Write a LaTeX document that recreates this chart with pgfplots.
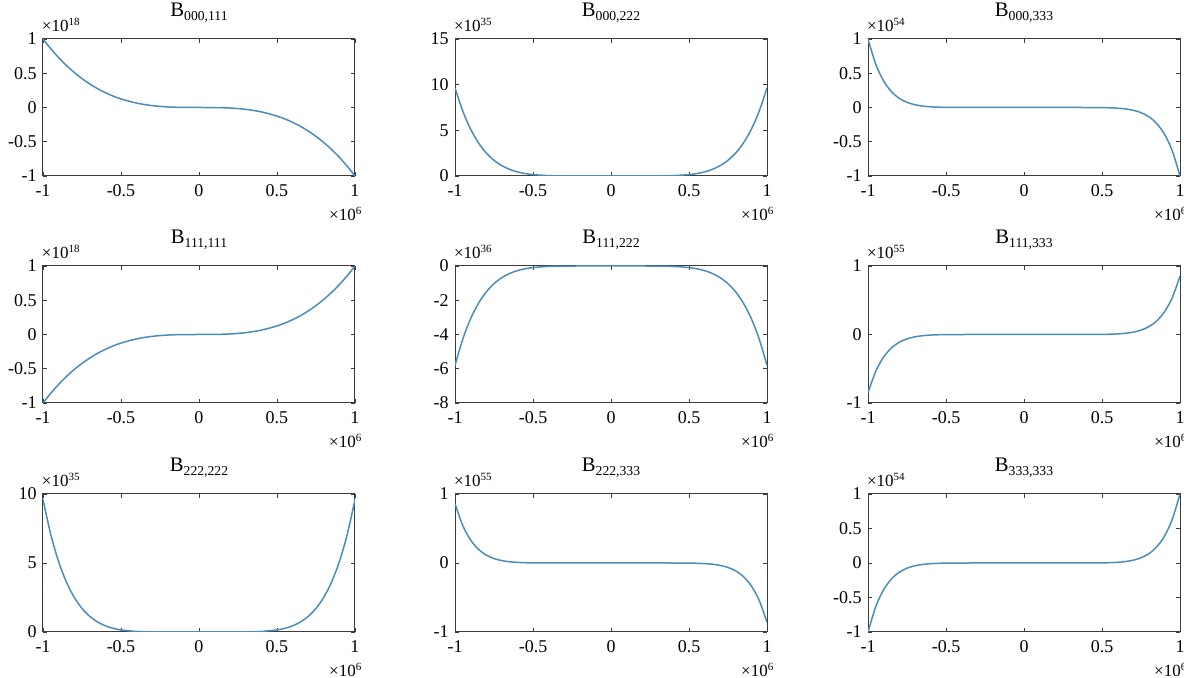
\documentclass[border=0pt]{standalone}
\usepackage{fontspec}
\setmainfont{Liberation Serif}
\usepackage{pgfplots}
\usepackage{pgfplotstable}
\pgfplotsset{compat=1.18}

\definecolor{curve}{RGB}{75,140,185}
\definecolor{frame}{RGB}{60,60,60}

% x in units of 1e6, each column in the units of its panel's y scale
\pgfplotstableread{
x a b c d e f g h i
-1 1 9.65 1 -1 -5.8 -0.85 9.6 0.86 -1
-0.95 0.8574 7.094 0.6302 -0.8574 -4.264 -0.5357 7.057 0.5420 -0.6302
-0.9 0.729 5.128 0.3874 -0.729 -3.082 -0.3293 5.102 0.3332 -0.3874
-0.85 0.6141 3.640 0.2316 -0.6141 -2.187 -0.1969 3.621 0.1992 -0.2316
-0.8 0.512 2.530 0.1342 -0.512 -1.520 -0.1141 2.517 0.1154 -0.1342
-0.75 0.4219 1.718 0.0751 -0.4219 -1.032 -0.0638 1.709 0.0646 -0.0751
-0.7 0.343 1.135 0.0404 -0.343 -0.682 -0.0343 1.129 0.0347 -0.0404
-0.65 0.2746 0.728 0.0207 -0.2746 -0.437 -0.0176 0.724 0.0178 -0.0207
-0.6 0.216 0.450 0.0101 -0.216 -0.271 -0.0086 0.448 0.0087 -0.0101
-0.55 0.1664 0.267 0.0046 -0.1664 -0.161 -0.0039 0.266 0.0040 -0.0046
-0.5 0.125 0.151 0.0020 -0.125 -0.091 -0.0017 0.150 0.0017 -0.0020
-0.4 0.064 0.040 0.0003 -0.064 -0.024 -0.0002 0.039 0.0002 -0.0003
-0.3 0.027 0.007 0 -0.027 -0.004 0 0.007 0 0
-0.2 0.008 0.001 0 -0.008 0 0 0.001 0 0
-0.1 0.001 0 0 -0.001 0 0 0 0 0
0 0 0 0 0 0 0 0 0 0
0.1 -0.001 0 0 0.001 0 0 0 0 0
0.2 -0.008 0.001 0 0.008 0 0 0.001 0 0
0.3 -0.027 0.007 0 0.027 -0.004 0 0.007 0 0
0.4 -0.064 0.040 -0.0003 0.064 -0.024 0.0002 0.039 -0.0002 0.0003
0.5 -0.125 0.151 -0.0020 0.125 -0.091 0.0017 0.150 -0.0017 0.0020
0.55 -0.1664 0.267 -0.0046 0.1664 -0.161 0.0039 0.266 -0.0040 0.0046
0.6 -0.216 0.450 -0.0101 0.216 -0.271 0.0086 0.448 -0.0087 0.0101
0.65 -0.2746 0.728 -0.0207 0.2746 -0.437 0.0176 0.724 -0.0178 0.0207
0.7 -0.343 1.135 -0.0404 0.343 -0.682 0.0343 1.129 -0.0347 0.0404
0.75 -0.4219 1.718 -0.0751 0.4219 -1.032 0.0638 1.709 -0.0646 0.0751
0.8 -0.512 2.530 -0.1342 0.512 -1.520 0.1141 2.517 -0.1154 0.1342
0.85 -0.6141 3.640 -0.2316 0.6141 -2.187 0.1969 3.621 -0.1992 0.2316
0.9 -0.729 5.128 -0.3874 0.729 -3.082 0.3293 5.102 -0.3332 0.3874
0.95 -0.8574 7.094 -0.6302 0.8574 -4.264 0.5357 7.057 -0.5420 0.6302
1 -1 9.65 -1 1 -5.8 0.85 9.6 -0.86 1
}\bdata

\newcommand{\tenpow}[1]{{\fontsize{10.2}{12}\selectfont ×10\raisebox{3.8pt}{\fontsize{6.6}{7}\selectfont #1}}}
\newcommand{\bsub}[1]{B{\fontsize{8.2}{9}\selectfont\raisebox{-2.2pt}{#1}}}

\pgfplotsset{
  bpanel/.style={
    scale only axis, width=187.2pt, height=82.2pt,
    xmin=-1, xmax=1,
    xtick={-1,-0.5,0,0.5,1}, xticklabels={-1,-0.5,0,0.5,1},
    clip mode=individual,
    axis line style={frame, line width=0.6pt},
    major tick style={frame, line width=0.5pt},
    major tick length=2.4pt, tick align=inside,
    ticklabel style={font=\fontsize{10.8}{12}\selectfont, text=black},
    xticklabel style={anchor=base, inner sep=0pt, yshift=-12.6pt},
    yticklabel style={anchor=east, inner sep=0pt, xshift=-3.6pt},
    title style={at={(0.5,1)}, anchor=base, inner sep=0pt, yshift=7.2pt,
      font=\fontsize{12.4}{14}\selectfont},
  },
  bline/.style={curve, line width=0.9pt, smooth, tension=0.5, mark=none},
  pm1/.style={ymin=-1, ymax=1, ytick={-1,-0.5,0,0.5,1}, yticklabels={-1,-0.5,0,0.5,1}},
  pm1c/.style={ymin=-1, ymax=1, ytick={-1,0,1}, yticklabels={-1,0,1}},
}

\newcommand{\expnodes}[1]{%
  \node[anchor=base west, inner sep=0pt] at (rel axis cs:0,1) [xshift=-0.8pt, yshift=4.2pt] {\tenpow{#1}};
  \node[anchor=base east, inner sep=0pt] at (rel axis cs:1,0) [xshift=4pt, yshift=-26.8pt] {\tenpow{6}};
}

\begin{document}
\begin{tikzpicture}
\useasboundingbox (0,0) rectangle (710.4pt,406.8pt);

% row 1
\begin{axis}[bpanel, pm1, at={(25.8pt,383.4pt)}, anchor=north west, title={\bsub{000,111}}]
\addplot[bline] table[x=x, y=a] {\bdata};
\expnodes{18}
\end{axis}
\begin{axis}[bpanel, at={(273pt,383.4pt)}, anchor=north west, title={\bsub{000,222}},
  ymin=0, ymax=15, ytick={0,5,10,15}, yticklabels={0,5,10,15}]
\addplot[bline] table[x=x, y=b] {\bdata};
\expnodes{35}
\end{axis}
\begin{axis}[bpanel, pm1, at={(520.8pt,383.4pt)}, anchor=north west, title={\bsub{000,333}}]
\addplot[bline] table[x=x, y=c] {\bdata};
\expnodes{54}
\end{axis}

% row 2
\begin{axis}[bpanel, pm1, at={(25.8pt,247.2pt)}, anchor=north west, title={\bsub{111,111}}]
\addplot[bline] table[x=x, y=d] {\bdata};
\expnodes{18}
\end{axis}
\begin{axis}[bpanel, at={(273pt,247.2pt)}, anchor=north west, title={\bsub{111,222}},
  ymin=-8, ymax=0, ytick={-8,-6,-4,-2,0}, yticklabels={-8,-6,-4,-2,0}]
\addplot[bline] table[x=x, y=e] {\bdata};
\expnodes{36}
\end{axis}
\begin{axis}[bpanel, pm1c, at={(520.8pt,247.2pt)}, anchor=north west, title={\bsub{111,333}}]
\addplot[bline] table[x=x, y=f] {\bdata};
\expnodes{55}
\end{axis}

% row 3
\begin{axis}[bpanel, height=82.8pt, at={(25.8pt,110.4pt)}, anchor=north west, title={\bsub{222,222}},
  ymin=0, ymax=10, ytick={0,5,10}, yticklabels={0,5,10}]
\addplot[bline] table[x=x, y=g] {\bdata};
\expnodes{35}
\end{axis}
\begin{axis}[bpanel, pm1c, height=82.8pt, at={(273pt,110.4pt)}, anchor=north west, title={\bsub{222,333}}]
\addplot[bline] table[x=x, y=h] {\bdata};
\expnodes{55}
\end{axis}
\begin{axis}[bpanel, pm1, height=82.8pt, at={(520.8pt,110.4pt)}, anchor=north west, title={\bsub{333,333}}]
\addplot[bline] table[x=x, y=i] {\bdata};
\expnodes{54}
\end{axis}
\end{tikzpicture}
\end{document}
